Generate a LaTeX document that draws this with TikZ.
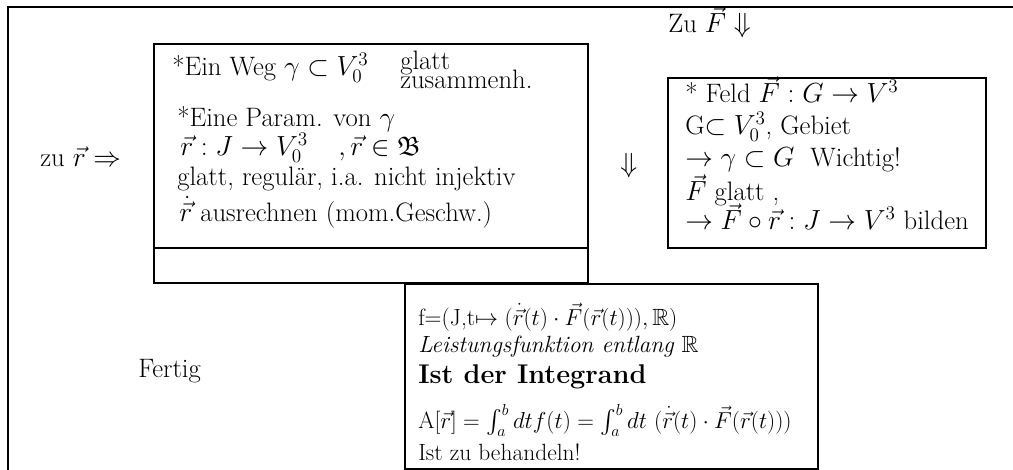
\documentclass[tikz,border=0pt]{standalone}
\usepackage{fontspec}
\usepackage{amsmath,amssymb}
\begin{document}
\begin{tikzpicture}[x=0.75pt,y=-0.75pt,
  txt/.style={anchor=base west,inner sep=0pt,font=\fontsize{20}{24}\selectfont},
  txtr/.style={anchor=base west,inner sep=0pt,font=\fontsize{20}{24}\selectfont},
  txtb/.style={anchor=base west,inner sep=0pt,font=\fontsize{17.6}{21}\selectfont},
  txtbb/.style={anchor=base west,inner sep=0pt,font=\fontsize{20.3}{24}\selectfont\bfseries},
  frame/.style={line width=1.3pt},
  boxline/.style={line width=1.1pt}]
\useasboundingbox (0,0) rectangle (1013,470);
% outer frame
\draw[frame] (1013,7) -- (8,7) -- (8,470);
% left box
\draw[boxline] (154,44) rectangle (588,283);
\draw[boxline] (154,248) -- (588,248);
% right box
\draw[boxline] (668,78) rectangle (986,248);
% bottom box
\draw[boxline] (405,284) rectangle (818,469);
% left box texts
\node[txt] (w1) at (172,76) {*Ein Weg $\gamma\subset V_0^3$};
\node[txt] (w2) at (400,70) {glatt};
\node[txt] (w3) at (400,89) {zusammenh.};
\node[txt] (p1) at (177,127) {*Eine Param. von $\gamma$};
\node[txt] (p2) at (180,156) {$\vec{r}:J\rightarrow V_0^3$};
\node[txt] (p3) at (338,156) {$,\vec{r}\in\mathfrak{B}$};
\node[txt] (p4) at (177,186) {glatt, regulär, i.a. nicht injektiv};
\node[txt] (p5) at (179,222) {$\dot{\vec{r}}$ ausrechnen (mom.Geschw.)};
% right box texts
\node[txtr] (zf) at (668,33) {Zu $\vec{F}\Downarrow$};
\node[txtr] (f1) at (685,103) {* Feld $\vec{F}:G\rightarrow V^3$};
\node[txtr] (f2) at (685,135) {G$\subset V_0^3$, Gebiet};
\node[txtr] (f3) at (685,167) {$\rightarrow\gamma\subset G$\ \ Wichtig!};
\node[txtr] (f4) at (685,201) {$\vec{F}$ glatt ,};
\node[txtr] (f5) at (685,230) {$\rightarrow\vec{F}\circ\vec{r}:J\rightarrow V^3$ bilden};
% arrows between
\node[txtr] (da) at (620,173) {$\Downarrow$};
\node[txtr] (zr) at (40,167) {zu $\vec{r}\Rightarrow$};
\node[txtr] (fe) at (138,377) {Fertig};
% bottom box texts
\node[txtb] (b1) at (418,325) {f=(J,t$\mapsto(\dot{\vec{r}}(t)\cdot\vec{F}(\vec{r}(t))),\mathbb{R})$};
\node[txtb] (b2) at (418,352) {\textit{Leistungsfunktion entlang} $\mathbb{R}$};
\node[txtbb] (b3) at (418,383) {Ist der Integrand};
\node[txtb] (b4) at (418,428) {A$[\vec{r}]=\int_a^b dt f(t)=\int_a^b dt\ (\dot{\vec{r}}(t)\cdot\vec{F}(\vec{r}(t)))$};
\node[txtb] (b5) at (418,460) {Ist zu behandeln!};
\end{tikzpicture}
\end{document}
